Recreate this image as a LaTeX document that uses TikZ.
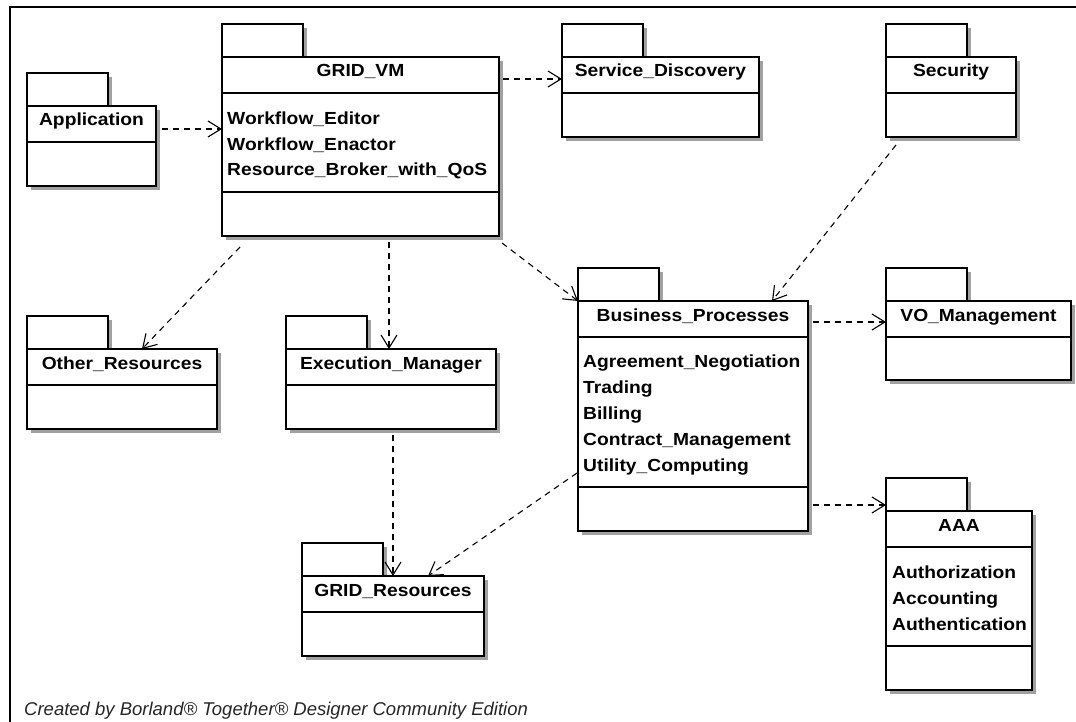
\documentclass[tikz,border=0pt]{standalone}
\usepackage{fontspec}
\usetikzlibrary{arrows.meta,calc}
\newfontfamily\umlfont[FakeStretch=1.1]{Liberation Sans}
\newfontfamily\notefont{Liberation Sans}

\definecolor{shadowgray}{gray}{0.63}

\tikzstyle{pkgline}=[draw=black,line width=1.2pt]
\tikzstyle{pkgshadow}=[fill=shadowgray]
\tikzstyle{pkgbody}=[pkgline,fill=white,rectangle,anchor=north west,inner sep=0pt,outer sep=0pt]
\tikzstyle{pkgname}=[font=\umlfont\bfseries\fontsize{17.5}{20}\selectfont,inner sep=0pt,anchor=base]
\tikzstyle{pkgattr}=[pkgname,anchor=base west]
\tikzstyle{dep}=[draw,line width=1.1pt,dash pattern=on 6pt off 5pt,-{Straight Barb[length=13pt,width=16pt]}]

% #1 node name, #2/#3 top left of body, #4 width, #5 height, #6 label
\newcommand{\umlpackage}[6]{%
    \fill[pkgshadow] (#2+4,#3-29) rectangle (#2+85,#3);
    \fill[pkgshadow] (#2+4,#3+4) rectangle (#2+#4+4,#3+#5+4);
    \draw[pkgline,fill=white] (#2,#3-33) rectangle (#2+81,#3);
    \node[pkgbody,minimum width=#4*1pt,minimum height=#5*1pt] (#1) at (#2,#3) {};
    \node[pkgname] (#1-label) at (#2+#4/2,#3+20) {#6};
    \draw[pkgline] (#1.north west) ++(0,36) -- ++(#4,0);
}

\begin{document}
\begin{tikzpicture}[x=1pt,y=-1pt]
    \useasboundingbox (0,0) rectangle (1076,722);
    \draw[line width=2pt] (10,7) rectangle (1300,900);

    % First we draw the packages
    \foreach \name/\x/\y/\w/\h/\label in {app/27/106/129/80/Application, gridvm/222/57/277/179/GRID\_VM,
        sd/562/57/197/80/Service\_Discovery, security/886/57/130/80/Security,
        bp/578/301/230/230/Business\_Processes, vo/886/301/185/79/VO\_Management,
        othres/27/349/190/80/Other\_Resources, execmgr/286/349/210/80/Execution\_Manager,
        gridres/302/576/182/80/GRID\_Resources, aaa/886/511/146/179/AAA}
        \umlpackage{\name}{\x}{\y}{\w}{\h}{\label};

    % Attribute compartments
    \foreach \pkg in {gridvm,bp,aaa}
        \draw[pkgline] ($(\pkg.south west)+(0,-44)$) -- ($(\pkg.south east)+(0,-44)$);
    \foreach \attr [count=\i] in {Workflow\_Editor, Workflow\_Enactor, Resource\_Broker\_with\_QoS}
        \node[pkgattr] (gridvm-attr\i) at (227,99.5+25.5*\i) {\attr};
    \foreach \attr [count=\i] in {Agreement\_Negotiation, Trading, Billing, Contract\_Management, Utility\_Computing}
        \node[pkgattr] (bp-attr\i) at (583,341+26*\i) {\attr};
    \foreach \attr [count=\i] in {Authorization, Accounting, Authentication}
        \node[pkgattr] (aaa-attr\i) at (892,552+26*\i) {\attr};

    % Dependencies
    \path[dep] ($(app.north east)+(6,23)$) -- ($(gridvm.north west)+(0,72)$);
    \path[dep] ($(gridvm.north east)+(4,22)$) -- ($(sd.north west)+(0,22)$);
    \path[dep] ($(gridvm.south west)+(18,11)$) -- ($(othres.north west)+(115,0)$);
    \path[dep] ($(gridvm.south west)+(167,6)$) -- ($(execmgr.north west)+(103,0)$);
    \path[dep] ($(gridvm.south east)+(3,7)$) -- (bp.north west);
    \path[dep] ($(security.south west)+(10,8)$) -- ($(bp.north west)+(194,0)$);
    \path[dep] ($(bp.north east)+(5,21)$) -- ($(vo.north west)+(0,21)$);
    \path[dep] ($(bp.north east)+(5,204)$) -- ($(aaa.north west)+(0,-6)$);
    \path[dep] ($(execmgr.south west)+(107,6)$) -- ($(gridres.north west)+(91,0)$);
    \path[dep] ($(bp.north west)+(-1,172)$) -- ($(gridres.north west)+(126,0)$);

    \node[font=\notefont\itshape\fontsize{18.5}{22}\selectfont,anchor=base west,inner sep=0pt,text=black!85] (credit)
        at (24,715) {Created by Borland® Together® Designer Community Edition};
\end{tikzpicture}
\end{document}
